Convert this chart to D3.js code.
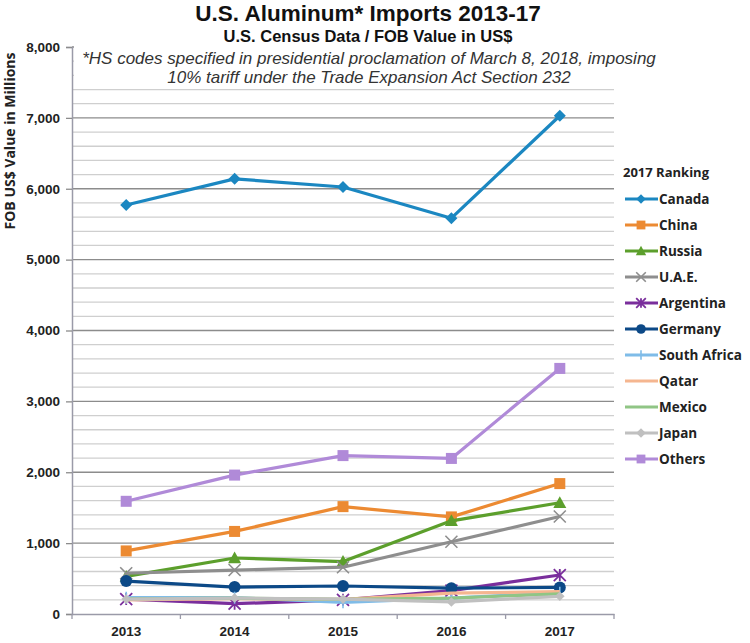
<!DOCTYPE html>
<html><head><meta charset="utf-8">
<script src="https://cdn.jsdelivr.net/npm/d3@7"></script>
<style>
html,body{margin:0;padding:0;background:#fff;}
svg{display:block;font-family:"Open Sans","Noto Sans",sans-serif;}
.hd{font-family:"Liberation Sans","Arial",sans-serif;}
</style></head>
<body><svg id="chart" width="750" height="643"></svg>
<script>
const years = ["2013","2014","2015","2016","2017"];
const yTicks = [0,1000,2000,3000,4000,5000,6000,7000,8000];
const seriesNames = ["Canada","China","Russia","U.A.E.","Argentina","Germany","South Africa","Qatar","Mexico","Japan","Others"];
const canada      = [5770, 6140, 6025, 5585, 7030];
const china       = [890, 1165, 1515, 1370, 1840];
const russia      = [530, 790, 740, 1315, 1570];
const uae         = [575, 620, 660, 1020, 1375];
const argentina   = [210, 145, 200, 330, 550];
const germany     = [465, 380, 395, 365, 375];
const southAfrica = [230, 230, 165, 225, 300];
const qatar       = [200, 215, 205, 295, 315];
const mexico      = [215, 225, 205, 225, 285];
const japan       = [210, 225, 210, 170, 250];
const others      = [1590, 1960, 2235, 2195, 3465];
const seriesValues = [canada, china, russia, uae, argentina, germany, southAfrica, qatar, mexico, japan, others];
const colors  = ["#1b87c1","#ec8a32","#5c9f2c","#8e8e8e","#7a2e9c","#0c4987","#7fbce8","#f5b690","#90c585","#c0c0c0","#b08ad8"];
const markers = ["diamond","square","triangle","x","asterisk","circle","plus","none","none","diamond","square"];

(function () {
const svg = d3.select("#chart");
const pL = 72, pR = 614, pT = 47, pB = 614;
const x = d3.scaleBand().domain(years).range([pL, pR]);
const y = d3.scaleLinear().domain([0, 8000]).range([pB, pT]);
const cx = d => x(d) + x.bandwidth() / 2;

// gridlines
const minor = d3.range(0, 8001, 200).filter(v => v % 1000 !== 0);
svg.append("g").selectAll("line").data(minor).join("line")
  .attr("x1", pL).attr("x2", pR).attr("y1", d => y(d)).attr("y2", d => y(d))
  .attr("stroke", "#cfcfcf").attr("stroke-width", 1.3);
svg.append("g").selectAll("line").data(yTicks.filter(v => v > 0)).join("line")
  .attr("x1", pL).attr("x2", pR).attr("y1", d => y(d)).attr("y2", d => y(d))
  .attr("stroke", "#8c8c8c").attr("stroke-width", 1.3);

// annotation box (white) covering top gridlines
svg.append("rect").attr("x", pL + 2).attr("y", pT - 2).attr("width", 590).attr("height", 38).attr("fill", "#fff");

// y axis
const yAxis = d3.axisLeft(y).tickValues(yTicks).tickSize(6).tickFormat(d3.format(","));
const gy = svg.append("g").attr("transform", `translate(${pL},0)`).call(yAxis);
gy.select(".domain").attr("stroke", "#9a9aa8").attr("stroke-width", 1.5);
gy.selectAll(".tick line").attr("stroke", "#8c8c8c").attr("stroke-width", 1.3);
gy.selectAll(".tick text").attr("font-size", 13.5).attr("font-weight", 700).attr("fill", "#222").attr("x", -12);

// x axis
const xAxis = d3.axisBottom(x).tickSize(0).tickPadding(12);
const gx = svg.append("g").attr("transform", `translate(0,${pB})`).call(xAxis);
gx.select(".domain").attr("stroke", "#9a9aa8").attr("stroke-width", 1.5);
gx.selectAll(".tick text").attr("font-size", 13.5).attr("font-weight", 700).attr("fill", "#222");
const bounds = years.map(d => x(d)).concat([pR]);
svg.append("g").selectAll("line").data(bounds).join("line")
  .attr("x1", d => d).attr("x2", d => d).attr("y1", pB).attr("y2", pB + 5)
  .attr("stroke", "#9a9aa8").attr("stroke-width", 1.3);

function drawMarker(g, type, color, px, py, s) {
  s = s || 1;
  if (type === "diamond") {
    const r = 6 * s;
    g.append("path").attr("d", `M${px},${py - r}L${px + r},${py}L${px},${py + r}L${px - r},${py}Z`).attr("fill", color);
  } else if (type === "square") {
    const r = 5.5 * s;
    g.append("rect").attr("x", px - r).attr("y", py - r).attr("width", 2 * r).attr("height", 2 * r).attr("fill", color);
  } else if (type === "triangle") {
    const r = 6.5 * s;
    g.append("path").attr("d", `M${px},${py - r}L${px + r},${py + r * 0.8}L${px - r},${py + r * 0.8}Z`).attr("fill", color);
  } else if (type === "circle") {
    g.append("circle").attr("cx", px).attr("cy", py).attr("r", 6 * s).attr("fill", color);
  } else if (type === "x") {
    const r = 6 * s;
    g.append("path").attr("d", `M${px - r},${py - r}L${px + r},${py + r}M${px - r},${py + r}L${px + r},${py - r}`)
      .attr("stroke", color).attr("stroke-width", 1.6).attr("fill", "none");
  } else if (type === "asterisk") {
    const r = 6 * s;
    g.append("path").attr("d", `M${px - r},${py - r}L${px + r},${py + r}M${px - r},${py + r}L${px + r},${py - r}M${px},${py - r}L${px},${py + r}`)
      .attr("stroke", color).attr("stroke-width", 1.8).attr("fill", "none");
  } else if (type === "plus") {
    const r = 6 * s;
    g.append("path").attr("d", `M${px},${py - r}L${px},${py + r}`)
      .attr("stroke", color).attr("stroke-width", 1.6).attr("fill", "none");
  }
}

const line = d3.line().x((d, i) => cx(years[i])).y(d => y(d));
d3.range(seriesNames.length).forEach(k => {
  const g = svg.append("g");
  g.append("path").attr("d", line(seriesValues[k])).attr("fill", "none")
    .attr("stroke", colors[k]).attr("stroke-width", 3.2).attr("stroke-linejoin", "round");
  seriesValues[k].forEach((v, i) => drawMarker(g, markers[k], colors[k], cx(years[i]), y(v), k === 9 ? 0.8 : 1));
});

// legend
const lg = svg.append("g");
lg.append("rect").attr("x", 617).attr("y", 150).attr("width", 133).attr("height", 325).attr("fill", "#fff");
lg.append("text").attr("x", 623).attr("y", 177).attr("font-size", 13).attr("font-weight", 700).attr("fill", "#222").text("2017 Ranking");
seriesNames.forEach((n, k) => {
  const ly = 199 + k * 26;
  lg.append("line").attr("x1", 625).attr("x2", 658).attr("y1", ly).attr("y2", ly)
    .attr("stroke", colors[k]).attr("stroke-width", 3);
  drawMarker(lg, markers[k], colors[k], 641, ly, 0.8);
  lg.append("text").attr("x", 659).attr("y", ly + 4.8).attr("font-size", 13.5).attr("font-weight", 700).attr("fill", "#222").text(n);
});

// titles
svg.append("text").attr("class", "hd").attr("x", 368).attr("y", 21).attr("text-anchor", "middle").attr("font-size", 22.5).attr("font-weight", 700).attr("fill", "#111").text("U.S. Aluminum* Imports 2013-17");
svg.append("text").attr("class", "hd").attr("x", 368).attr("y", 41.5).attr("text-anchor", "middle").attr("font-size", 16.5).attr("font-weight", 700).attr("fill", "#111").text("U.S. Census Data / FOB Value in US$");
svg.append("text").attr("class", "hd").attr("x", 369).attr("y", 63.5).attr("text-anchor", "middle").attr("font-size", 17).attr("font-style", "italic").attr("fill", "#333").text("*HS codes specified in presidential proclamation of March 8, 2018, imposing");
svg.append("text").attr("class", "hd").attr("x", 369).attr("y", 83).attr("text-anchor", "middle").attr("font-size", 17).attr("font-style", "italic").attr("fill", "#333").text("10% tariff under the Trade Expansion Act Section 232");

svg.append("text").attr("transform", "translate(15,141) rotate(-90)").attr("text-anchor", "middle")
  .attr("font-size", 14).attr("font-weight", 700).attr("fill", "#222").text("FOB US$ Value in Millions");
})();
</script></body></html>
